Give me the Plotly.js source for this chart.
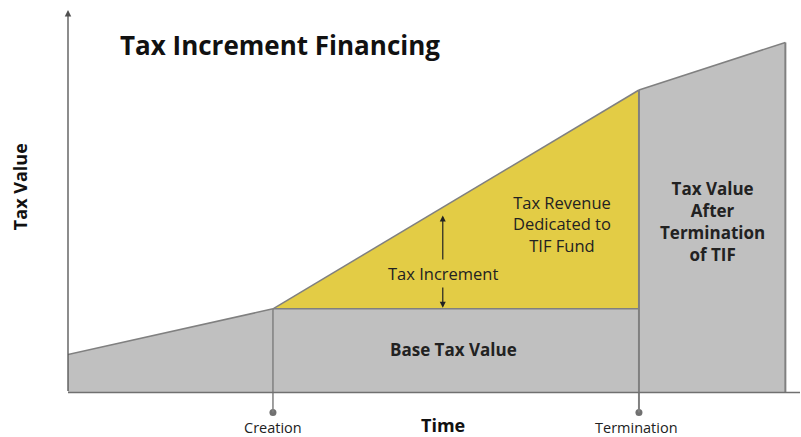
<!DOCTYPE html>
<html>
<head>
<meta charset="utf-8">
<script src="https://cdn.plot.ly/plotly-3.0.1.min.js"></script>
<style>html,body{margin:0;padding:0;background:#fff;}#chart{width:801px;height:437px;}</style>
</head>
<body>
<div id="chart"></div>
<script>
// Time points: start, TIF creation, TIF termination, end
const timePoints = [0, 28, 78, 98];
// Tax value at those points
const taxValue = [10, 22, 79.5, 92];
// Frozen base tax value during the TIF
const baseValue = 22;
const eventLabels = ['Creation', 'Termination'];

const GRAY = '#c0c0c0', EDGE = '#808080', YELLOW = '#e3cc45';
const FONT = 'Open Sans, sans-serif';
const DOT_Y = -5.25;

const traces = [
  { x: timePoints.slice(0, 2), y: taxValue.slice(0, 2), mode: 'lines', fill: 'tozeroy',
    fillcolor: GRAY, line: { color: EDGE, width: 1.5 } },
  { x: [timePoints[1], timePoints[2]], y: [baseValue, baseValue], mode: 'lines', fill: 'tozeroy',
    fillcolor: GRAY, line: { color: EDGE, width: 1.5 } },
  { x: [timePoints[1], timePoints[2]], y: [taxValue[1], taxValue[2]], mode: 'lines', fill: 'tonexty',
    fillcolor: YELLOW, line: { color: EDGE, width: 1.5 } },
  { x: timePoints.slice(2, 4), y: taxValue.slice(2, 4), mode: 'lines', fill: 'tozeroy',
    fillcolor: GRAY, line: { color: EDGE, width: 1.5 } },
  { x: [timePoints[1], timePoints[2]], y: [DOT_Y, DOT_Y], mode: 'markers', cliponaxis: false,
    marker: { color: '#707070', size: 7 } }
];

const shapes = [
  { type: 'line', xref: 'x', yref: 'y', x0: timePoints[1], x1: timePoints[1], y0: DOT_Y, y1: taxValue[1],
    line: { color: EDGE, width: 1.5 } },
  { type: 'line', xref: 'x', yref: 'y', x0: timePoints[2], x1: timePoints[2], y0: DOT_Y, y1: taxValue[2],
    line: { color: EDGE, width: 2 } },
  { type: 'line', xref: 'x', yref: 'y', x0: timePoints[3], x1: timePoints[3], y0: 0, y1: taxValue[3],
    line: { color: EDGE, width: 2 } },
  { type: 'line', xref: 'x', yref: 'y', x0: 0, x1: 100, y0: 0, y1: 0,
    line: { color: '#707070', width: 1.5 } }
];

const incX = 51.2;
const annotations = [
  // vertical axis arrow
  { xref: 'x', yref: 'y', axref: 'x', ayref: 'y', x: 0, y: 100.5, ax: 0, ay: 0, text: '',
    showarrow: true, arrowhead: 2, arrowsize: 1, arrowwidth: 1.3, arrowcolor: '#505050' },
  // Tax increment double arrow
  { xref: 'x', yref: 'y', axref: 'x', ayref: 'y', x: incX, y: 46.5, ax: incX, ay: 34.6, text: '',
    showarrow: true, arrowhead: 2, arrowsize: 1, arrowwidth: 1.2, arrowcolor: '#222' },
  { xref: 'x', yref: 'y', axref: 'x', ayref: 'y', x: incX, y: baseValue + 0.3, ax: incX, ay: 28.0, text: '',
    showarrow: true, arrowhead: 2, arrowsize: 1, arrowwidth: 1.2, arrowcolor: '#222' },
  { xref: 'x', yref: 'y', x: incX, y: 31.4, text: 'Tax Increment', showarrow: false,
    font: { family: FONT, size: 16.5, color: '#222' } },
  { xref: 'x', yref: 'y', x: 67.5, y: 44.4, text: 'Tax Revenue<br>Dedicated to<br>TIF Fund', showarrow: false,
    font: { family: FONT, size: 16.5, color: '#222' } },
  { xref: 'x', yref: 'y', x: 52.7, y: 11.3, text: '<b>Base Tax Value</b>', showarrow: false,
    font: { family: FONT, size: 17, color: '#222' } },
  { xref: 'x', yref: 'y', x: 88, y: 44.9, text: '<b>Tax Value<br>After<br>Termination<br>of TIF</b>', showarrow: false,
    font: { family: FONT, size: 17, color: '#222' } },
  // title
  { xref: 'paper', yref: 'paper', x: 0.0683, y: 0.92, xanchor: 'left', yanchor: 'middle',
    text: '<b>Tax Increment Financing</b>', showarrow: false, font: { family: FONT, size: 26, color: '#111' } },
  // axis titles
  { xref: 'paper', yref: 'paper', x: -0.0663, xanchor: 'center', y: 0.575, yanchor: 'middle',
    text: '<b>Tax Value</b>', textangle: -90, showarrow: false,
    font: { family: FONT, size: 18, color: '#111' } },
  { xref: 'x', yref: 'paper', x: 51.2, y: 0, yanchor: 'middle', yshift: -1.5, borderpad: 0, text: '<b>Time</b>', showarrow: false,
    font: { family: FONT, size: 18, color: '#111' } },
  { xref: 'x', yref: 'paper', x: timePoints[1], y: 0, yanchor: 'middle', yshift: -4.5, borderpad: 0, text: eventLabels[0], showarrow: false,
    font: { family: FONT, size: 14.5, color: '#222' } },
  { xref: 'x', yref: 'paper', x: timePoints[2] - 0.3, y: 0, yanchor: 'middle', yshift: -4.5, borderpad: 0, text: eventLabels[1], showarrow: false,
    font: { family: FONT, size: 14.5, color: '#222' } }
];

const layout = {
  width: 801, height: 437,
  margin: { l: 68, r: 1, t: 12, b: 13.5 },
  paper_bgcolor: '#fff', plot_bgcolor: '#fff',
  showlegend: false,
  xaxis: { range: [0, 100], showgrid: false, zeroline: false, showticklabels: false, showline: false, ticks: '', fixedrange: true },
  yaxis: { range: [-8, 100], showgrid: false, zeroline: false, showticklabels: false, showline: false, ticks: '', fixedrange: true },
  shapes: shapes,
  annotations: annotations,
  hovermode: false
};

Plotly.newPlot('chart', traces, layout, { displayModeBar: false, staticPlot: true });
</script>
</body>
</html>
